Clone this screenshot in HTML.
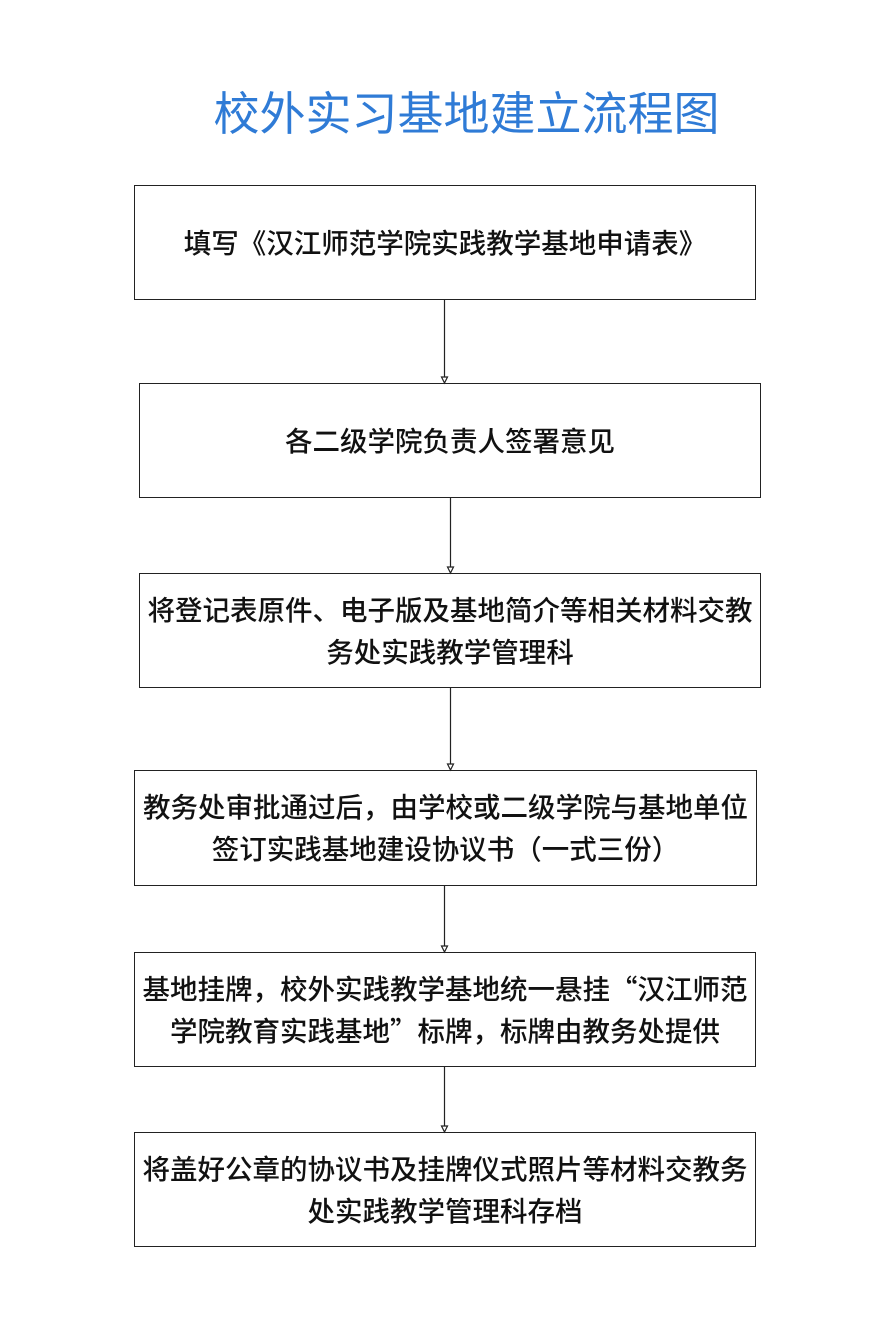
<!DOCTYPE html>
<html><head><meta charset="utf-8"><style>
body{margin:0;width:871px;height:1320px;background:#fff;position:relative;font-family:"Liberation Sans","Noto Sans CJK SC",sans-serif;}
.t{position:absolute;left:0;width:871px;top:78px;text-align:center;font-size:46px;color:#2f7bd6;padding-left:62px;box-sizing:border-box;font-family:"Noto Sans CJK SC",sans-serif;}
.b{position:absolute;border:1.5px solid #222;box-sizing:border-box;display:flex;align-items:center;justify-content:center;text-align:center;font-size:27.5px;line-height:42px;color:#111;font-weight:500;font-family:"Noto Sans CJK SC",sans-serif;white-space:nowrap;padding-bottom:4px;}
svg{position:absolute;left:0;top:0;}
</style></head><body>
<div class="t">校外实习基地建立流程图</div>
<div class="b" style="left:134px;top:185px;width:622px;height:115px;">填写《汉江师范学院实践教学基地申请表》</div>
<div class="b" style="left:139px;top:383px;width:622px;height:115px;">各二级学院负责人签署意见</div>
<div class="b" style="left:139px;top:573px;width:622px;height:115px;">将登记表原件、电子版及基地简介等相关材料交教<br>务处实践教学管理科</div>
<div class="b" style="left:134px;top:770px;width:623px;height:116px;">教务处审批通过后，由学校或二级学院与基地单位<br>签订实践基地建设协议书（一式三份）</div>
<div class="b" style="left:134px;top:952px;width:622px;height:115px;">基地挂牌，校外实践教学基地统一悬挂“汉江师范<br>学院教育实践基地”标牌，标牌由教务处提供</div>
<div class="b" style="left:134px;top:1132px;width:622px;height:115px;">将盖好公章的协议书及挂牌仪式照片等材料交教务<br>处实践教学管理科存档</div>
<svg width="871" height="1320" fill="none" stroke="#222" stroke-width="1.2">
<line x1="444.5" y1="300" x2="444.5" y2="377"/><path d="M441.5 377h6l-3 6z"/>
<line x1="450.5" y1="498" x2="450.5" y2="567"/><path d="M447.5 567h6l-3 6z"/>
<line x1="450.5" y1="688" x2="450.5" y2="764"/><path d="M447.5 764h6l-3 6z"/>
<line x1="444.5" y1="886" x2="444.5" y2="946"/><path d="M441.5 946h6l-3 6z"/>
<line x1="444.5" y1="1067" x2="444.5" y2="1126"/><path d="M441.5 1126h6l-3 6z"/>
</svg>
</body></html>
